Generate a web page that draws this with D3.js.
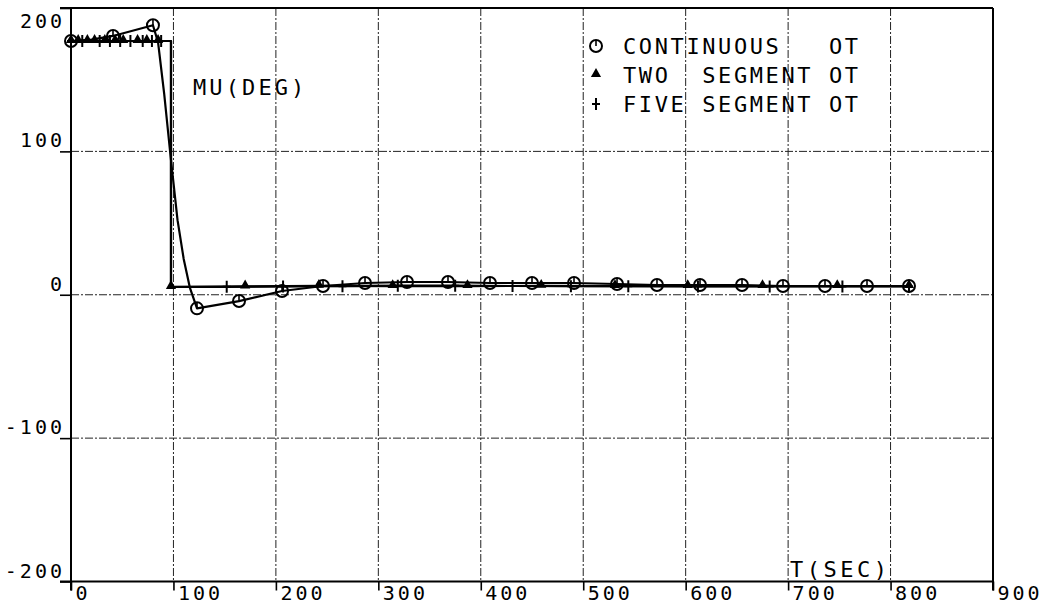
<!DOCTYPE html>
<html><head><meta charset="utf-8">
<script src="https://cdn.jsdelivr.net/npm/d3@7"></script>
<style>
body{margin:0;background:#fff}
svg{display:block}
text{font-family:"DejaVu Sans Mono",monospace;fill:#000;white-space:pre}
</style>
</head><body>
<svg id="c" width="1049" height="612"></svg>
<script>
// ---- data ----
const xTicks = [0,100,200,300,400,500,600,700,800,900];
const yTicks = [-200,-100,0,100,200];
const xTickLabels = ["0","100","200","300","400","500","600","700","800","900"];
const yTickLabels = ["-200","-100","0","100","200"];

// continuous OT: plotted line and circle markers
const contLineT  = [0,20,41,80,85,91,97,104,110,116,123,164,206,246,287,328,368,409,450,491,533,572,614,655,695,736,777,818];
const contLineMu = [177,178,180.5,188,176,140,98,52,25,5,-9.5,-4.4,2.6,6.1,8.2,8.9,8.9,8.2,8.2,8.2,7.5,6.8,6.8,6.8,6.1,6.1,6.1,6.1];
const contMarkT  = [0,41,80,123,164,206,246,287,328,368,409,450,491,533,572,614,655,695,736,777,818];
const contMarkMu = [177,180.5,188,-9.5,-4.4,2.6,6.1,8.2,8.9,8.9,8.2,8.2,8.2,7.5,6.8,6.8,6.8,6.1,6.1,6.1,6.1];

// two segment OT
const twoLineT  = [0,97.6,97.6,170,242,314,387,459,531,602,675,748,818];
const twoLineMu = [177,177,5.4,5.8,6.2,6.0,6.0,6.2,6.0,6.0,6.0,6.0,6.0];
const twoMarkT  = [0,7,16,23,33,43,51,65,74,85,97.6,170,242,314,387,459,531,602,675,748,818];
const twoMarkMu = [177,177,177,177,177,177,177,177,177,177,5.4,5.8,6.2,6.0,6.0,6.2,6.0,6.0,6.0,6.0,6.0];

// five segment OT
const fiveLineT  = [0,97.6,97.6,152,207,265,319,375,431,488,544,612,682,753,818];
const fiveLineMu = [177,177,5.5,5.5,5.8,6.0,6.3,6.3,6.1,6.0,6.0,5.8,5.8,5.8,5.8];
const fiveMarkT  = [0,11,28,38,48,58,70,79,88,152,207,265,319,375,431,488,544,612,682,753,818];
const fiveMarkMu = [177,177,177,177,177,177,177,177,177,5.5,5.8,6.0,6.3,6.3,6.1,6.0,6.0,5.8,5.8,5.8,5.8];

const legendItems = [
  {sym:"circle",   label:"CONTINUOUS   OT"},
  {sym:"triangle", label:"TWO  SEGMENT OT"},
  {sym:"plus",     label:"FIVE SEGMENT OT"}
];

// ---- layout ----
const svg = d3.select("#c");
const x = d3.scaleLinear().domain([0,900]).range([71,993]);
const y = d3.scaleLinear().domain([-200,200]).range([581.5,8]);
const X0 = x(0), Y0 = y(-200);

// grid
const grid = svg.append("g").attr("stroke","#222").attr("stroke-width",1).attr("stroke-dasharray","8,2,2,2");
grid.selectAll("line.v").data(xTicks.filter(d=>d>0&&d<900)).join("line")
  .attr("x1",d=>x(d)).attr("x2",d=>x(d)).attr("y1",y(200)).attr("y2",Y0);
grid.selectAll("line.h").data(yTicks.filter(d=>d>-200&&d<200)).join("line")
  .attr("x1",X0).attr("x2",x(900)).attr("y1",d=>y(d)).attr("y2",d=>y(d));

// axes
const xAxis = d3.axisBottom(x).tickValues(xTicks).tickFormat((d,i)=>xTickLabels[i]).tickSize(9).tickSizeOuter(0);
const gx = svg.append("g").attr("transform",`translate(0,${Y0})`).call(xAxis);
gx.select(".domain").remove();
gx.selectAll(".tick line").attr("stroke","#000").attr("stroke-width",1.6);
gx.selectAll(".tick text").attr("text-anchor","start").attr("x",4).attr("y",18).attr("dy",0)
  .attr("font-size",20).attr("letter-spacing",3).attr("font-family","DejaVu Sans Mono");

const yAxis = d3.axisLeft(y).tickValues(yTicks).tickFormat((d,i)=>yTickLabels[i]).tickSize(11).tickSizeOuter(0);
const gy = svg.append("g").attr("transform",`translate(${X0},0)`).call(yAxis);
gy.select(".domain").remove();
gy.selectAll(".tick line").attr("stroke","#000").attr("stroke-width",1.6);
gy.selectAll(".tick text").attr("text-anchor","end").attr("x",-6).attr("dy",0)
  .attr("y",d=>Math.max(y(d)-4.5,27)-y(d))
  .attr("font-size",20).attr("letter-spacing",3).attr("font-family","DejaVu Sans Mono");

// frame lines
const frame = svg.append("g").attr("stroke","#000").attr("stroke-width",2);
frame.append("line").attr("x1",60).attr("x2",x(900)).attr("y1",Y0).attr("y2",Y0);
frame.append("line").attr("x1",X0).attr("x2",X0).attr("y1",y(200)).attr("y2",Y0+9);
frame.append("line").attr("x1",60).attr("x2",x(900)).attr("y1",y(200)).attr("y2",y(200));
frame.append("line").attr("x1",x(900)).attr("x2",x(900)).attr("y1",y(200)).attr("y2",Y0+9);

// lines
const line = d3.line().x(d=>x(d[0])).y(d=>y(d[1]));
function drawLine(ts, ms){
  svg.append("path").datum(d3.zip(ts,ms)).attr("d",line)
    .attr("fill","none").attr("stroke","#000").attr("stroke-width",2.2).attr("stroke-linejoin","round");
}
drawLine(twoLineT,twoLineMu);
drawLine(fiveLineT,fiveLineMu);
drawLine(contLineT,contLineMu);

// markers
function marker(g, sym){
  if(sym==="circle"){
    g.append("circle").attr("r",6).attr("fill","none").attr("stroke","#000").attr("stroke-width",2);
    g.append("line").attr("x1",0).attr("x2",0).attr("y1",-6).attr("y2",0).attr("stroke","#000").attr("stroke-width",1.6);
  } else if(sym==="triangle"){
    g.append("path").attr("d",d3.symbol(d3.symbolTriangle,45)()).attr("transform","translate(0,-1)").attr("fill","#000");
  } else {
    g.append("path").attr("d","M0,-6V6M-4,0H4").attr("stroke","#000").attr("stroke-width",2);
  }
}
function drawMarks(ts, ms, sym){
  svg.append("g").selectAll("g").data(d3.zip(ts,ms)).join("g")
    .attr("transform",d=>`translate(${x(d[0])},${y(d[1])})`)
    .each(function(){ marker(d3.select(this), sym); });
}
drawMarks(twoMarkT,twoMarkMu,"triangle");
drawMarks(fiveMarkT,fiveMarkMu,"plus");
drawMarks(contMarkT,contMarkMu,"circle");

// labels
svg.append("text").attr("x",193).attr("y",95).attr("font-size",22).attr("letter-spacing",3.1).text("MU(DEG)");
svg.append("text").attr("x",790).attr("y",577).attr("font-size",22).attr("letter-spacing",3.5).text("T(SEC)");

// legend
const lg = svg.append("g");
const rowY = [54,83,112];
legendItems.forEach((it,i)=>{
  const g = lg.append("g").attr("transform",`translate(596,${rowY[i]-8})`);
  marker(g, it.sym);
  lg.append("text").attr("x",623).attr("y",rowY[i]).attr("font-size",22).attr("letter-spacing",2.6).text(it.label);
});
</script>
</body></html>
